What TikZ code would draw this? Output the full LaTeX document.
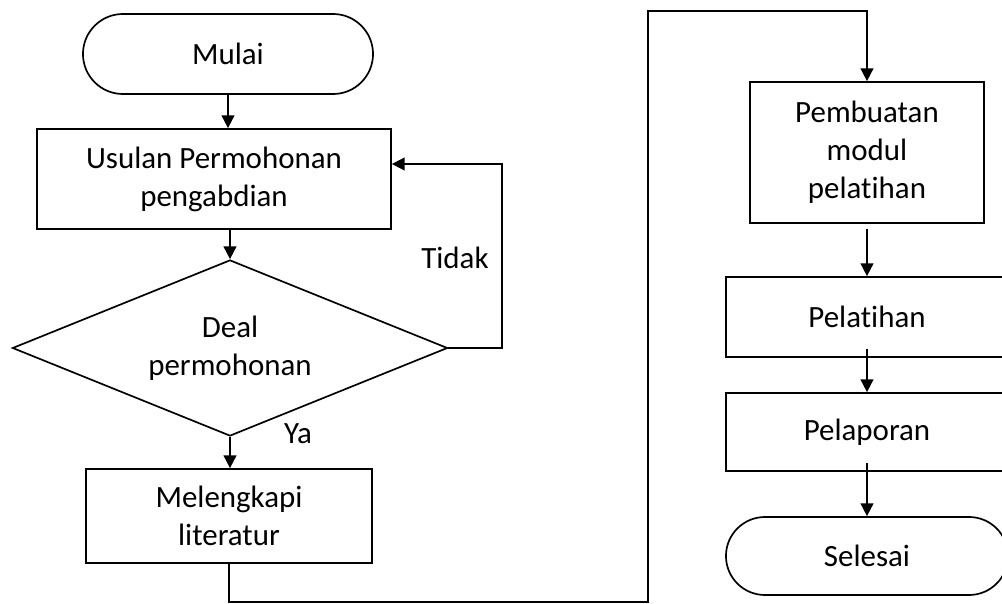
\documentclass[tikz,border=0pt]{standalone}
\usepackage{fontspec}
\setmainfont{Carlito}[RawFeature={-liga;-clig;-calt;-dlig}]
\usetikzlibrary{arrows.meta}
\usetikzlibrary{shapes.geometric}
\tikzstyle{base}=[x=0.025cm, y=-0.025cm, line width=1.2pt, font=\fontsize{22}{27}\selectfont]
\tikzstyle{process}=[draw, rectangle, align=center, inner sep=0pt]
\tikzstyle{terminal}=[draw, rectangle, rounded corners=1cm, align=center, inner sep=0pt]
\tikzstyle{decision}=[draw, diamond, aspect=2.47, align=center, inner sep=0pt]
\tikzstyle{arr}=[-{Triangle[length=9pt,width=9pt]}]

\begin{document}
\begin{tikzpicture}[base]
    \clip (0,0) rectangle (1002,604);
    \node [terminal, minimum width=7.25cm, minimum height=2cm] (mulai) at (228,54) {Mulai};
    \node [process, minimum width=8.85cm, minimum height=2.5cm] (usulan) at (214,179) {Usulan Permohonan\\pengabdian};
    \node [decision, minimum width=10.875cm, minimum height=4.4cm] (deal) at (230,348) {Deal\\permohonan};
    \node [process, minimum width=7.15cm, minimum height=2.35cm] (lengkap) at (229,516) {Melengkapi\\literatur};
    \node [process, minimum width=5.85cm, minimum height=3.525cm] (modul) at (867,152.5) {Pembuatan\\modul\\pelatihan};
    \node [process, minimum width=7.05cm, minimum height=2cm] (latih) at (867,317) {Pelatihan};
    \node [process, minimum width=7.05cm, minimum height=1.95cm] (lapor) at (867,432) {Pelaporan};
    \node [terminal, minimum width=7.05cm, minimum height=1.95cm, rounded corners=0.975cm] (selesai) at (867,556) {Selesai};
    \node (tidak) at (455,258) {Tidak};
    \node (ya) at (298,434) {Ya};
    \coordinate (balik) at (502,164);
    \coordinate (bawah) at (648,602);
    \coordinate (atas) at (648,11);
    \draw [arr] (mulai.south) -- (mulai.south |- usulan.north);
    \draw [arr] (deal.north |- usulan.south) -- (deal.north);
    \draw [arr] (deal.south) -- (deal.south |- lengkap.north);
    \draw [arr] (deal.east) -| (balik) -- (balik -| usulan.east);
    \draw [arr] (lengkap.south) |- (bawah) -- (atas) -| (modul.north);
    \draw [arr] ([yshift=-0.125cm]modul.south) -- (latih.north);
    \draw [arr] ([yshift=0.225cm]latih.south) -- (lapor.north);
    \draw [arr] ([yshift=0.225cm]lapor.south) -- (selesai.north);
\end{tikzpicture}
\end{document}
